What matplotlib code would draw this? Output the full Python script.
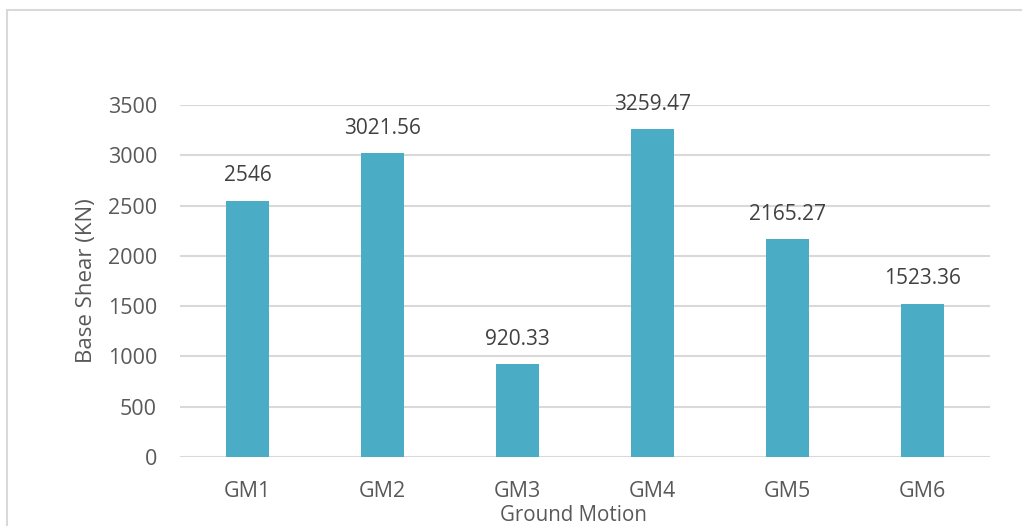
import matplotlib
matplotlib.use("Agg")
import matplotlib.pyplot as plt
from matplotlib.patches import Rectangle

categories = ["GM1", "GM2", "GM3", "GM4", "GM5", "GM6"]
values = [2546, 3021.56, 920.33, 3259.47, 2165.27, 1523.36]
labels = ["2546", "3021.56", "920.33", "3259.47", "2165.27", "1523.36"]
yticks = [0, 500, 1000, 1500, 2000, 2500, 3000, 3500]

W, H = 1022, 526
fig = plt.figure(figsize=(W / 100, H / 100), dpi=100)
plt.rcParams["font.family"] = ["Open Sans", "DejaVu Sans"]
txt = "#595959"

# chart border
fig.patches.append(Rectangle((7 / W, -0.1), 1.2, (H - 10) / H + 0.1, transform=fig.transFigure,
                             fill=False, edgecolor="#d9d9d9", lw=1.5))

ax = fig.add_axes([180 / W, (H - 457) / H, 810 / W, 352 / H])
x = range(len(categories))
ax.bar(x, values, width=0.32, color="#4BACC6", zorder=3)
for i, (v, l) in enumerate(zip(values, labels)):
    ax.annotate(l, (i, v), xytext=(0, 10.5), textcoords="offset points", ha="center",
                va="bottom", fontsize=15, color="#404040")

ax.set_xlim(-0.5, len(categories) - 0.5)
ax.set_ylim(0, 3500)
ax.set_yticks(yticks)
ax.set_yticklabels([str(t) for t in yticks], fontsize=15.5, color=txt)
ax.set_xticks(list(x))
ax.set_xticklabels(categories, fontsize=15.5, color=txt)
ax.tick_params(axis="y", length=0, pad=16.5)
ax.tick_params(axis="x", length=0, pad=17)
ax.grid(axis="y", color="#d9d9d9", lw=1.5, zorder=0)
for s in ax.spines.values():
    s.set_visible(False)
ax.set_ylabel("Base Shear (KN)", fontsize=16, color=txt)
ax.yaxis.set_label_coords((97 - 180) / 810, 0.5)
ax.set_xlabel("Ground Motion", fontsize=14.8, color=txt, va="top")
ax.xaxis.set_label_coords((573 - 180) / 810, -(505 - 457) / 352)

fig.savefig("out.png", dpi=100)
